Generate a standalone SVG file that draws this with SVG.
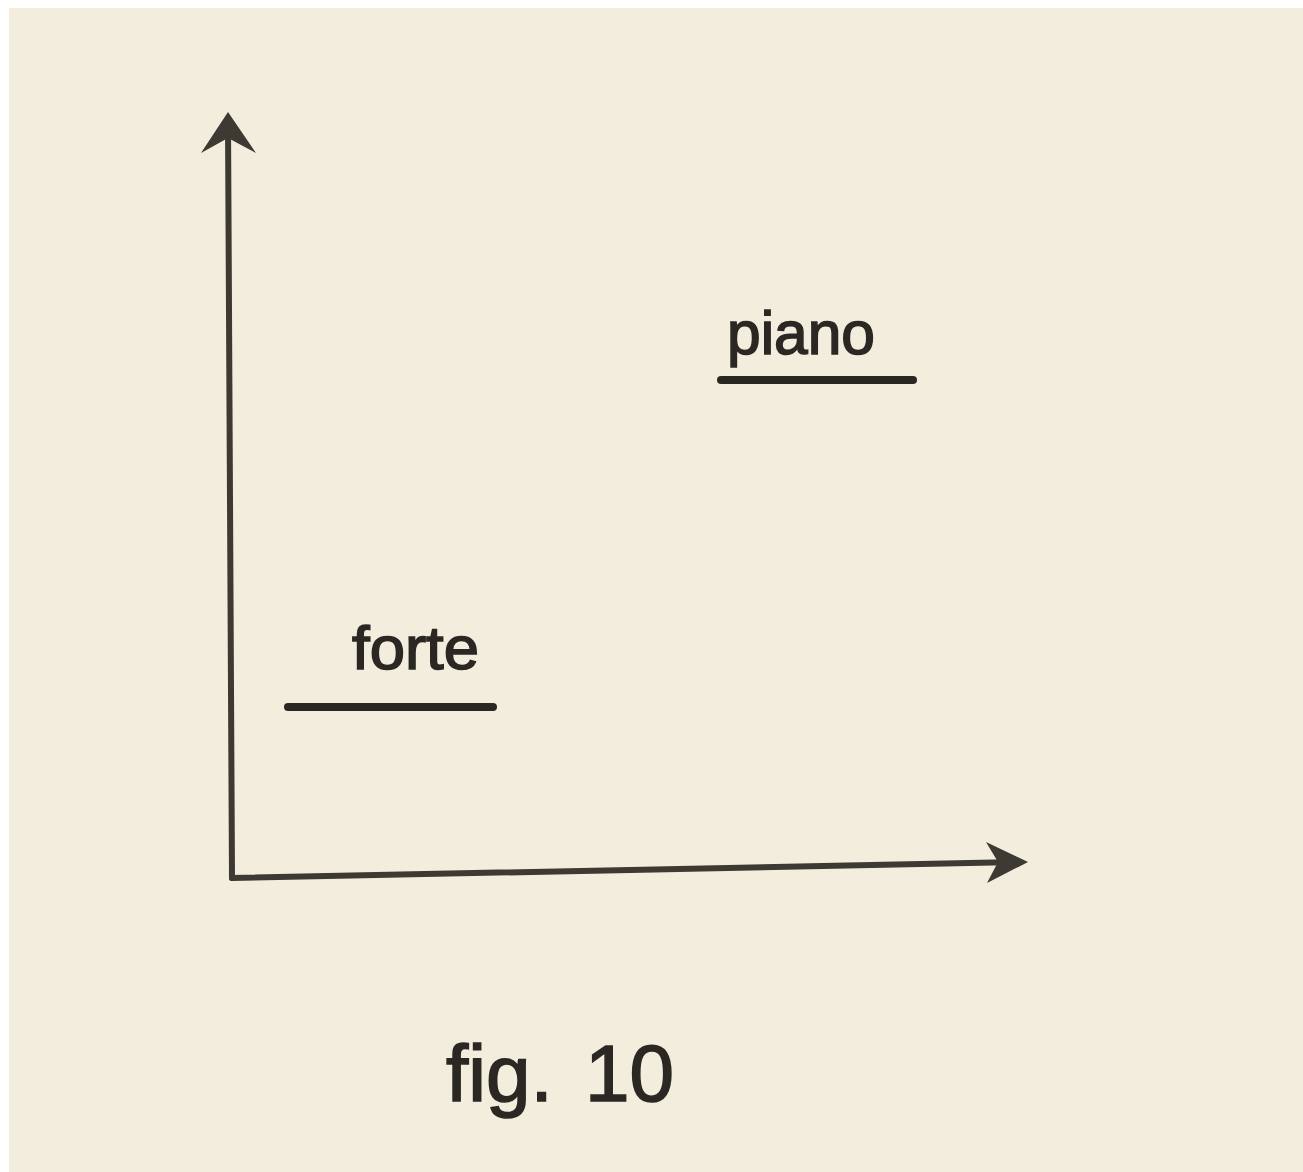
<svg xmlns="http://www.w3.org/2000/svg" width="1303" height="1172" viewBox="0 0 1303 1172">
<style>
.lbl{font-family:"Liberation Sans",Arial,sans-serif;fill:#2b2824;stroke:#2b2824;stroke-width:1.6}
.axis{stroke:#3d3933;stroke-width:6;fill:none;stroke-linecap:round}
.bar{stroke:#2a2723;stroke-width:8;stroke-linecap:round}
.head{fill:#3d3933}
</style>
<rect x="0" y="0" width="1303" height="1172" fill="#ffffff"/>
<rect x="9" y="8" width="1294" height="1164" fill="#f3eddd"/>
<g id="connectors">
<path class="axis" d="M232,878 L228,122"/>
<path class="axis" d="M232,878 L1020,862"/>
<path class="head" d="M228,112 L201,153 L228,138 L256,153 Z"/>
<path class="head" d="M1028,862 L986,842 L998,862 L987,883 Z"/>
</g>
<g id="forte">
<text class="lbl" x="352" y="669" font-size="62" textLength="127" lengthAdjust="spacingAndGlyphs">forte</text>
<line class="bar" x1="288" y1="707" x2="493" y2="707"/>
</g>
<g id="piano">
<text class="lbl" x="727" y="354" font-size="62" textLength="148" lengthAdjust="spacingAndGlyphs">piano</text>
<line class="bar" x1="721" y1="380" x2="913" y2="380"/>
</g>
<g id="caption">
<text class="lbl" x="446" y="1101" font-size="80">fig. <tspan x="585">10</tspan></text>
</g>
</svg>
